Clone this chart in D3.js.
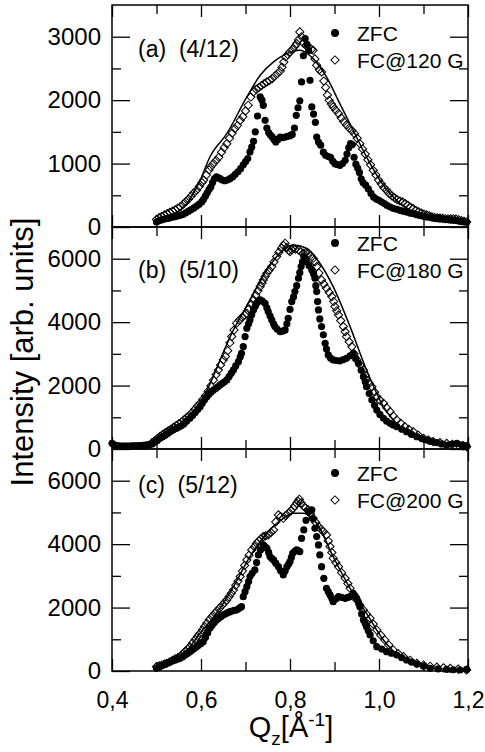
<!DOCTYPE html>
<html><head><meta charset="utf-8">
<script src="https://cdn.jsdelivr.net/npm/d3@7"></script>
<style>
html,body{margin:0;padding:0;background:#fff;}
svg{display:block;font-family:"Liberation Sans",Arial,sans-serif;}
</style></head>
<body><svg id="c" width="485" height="752"></svg>
<script>
// ---------- DATA ----------
const xTicks = [0.4, 0.6, 0.8, 1.0, 1.2];
const xTickLabels = ["0,4", "0,6", "0,8", "1,0", "1,2"];
const xMinor = [0.5, 0.7, 0.9, 1.1];

// Panel (a) (4/12)
const aZfcQ = [0.500,0.506,0.512,0.518,0.524,0.530,0.536,0.542,0.548,0.554,0.560,0.566,0.572,0.578,0.584,0.590,0.596,0.602,0.606,0.610,0.614,0.618,0.622,0.626,0.630,0.635,0.641,0.647,0.653,0.659,0.665,0.671,0.677,0.683,0.689,0.695,0.700,0.705,0.710,0.714,0.718,0.722,0.727,0.733,0.737,0.740,0.744,0.748,0.752,0.756,0.760,0.764,0.768,0.773,0.778,0.784,0.789,0.795,0.800,0.805,0.810,0.814,0.818,0.822,0.826,0.830,0.834,0.838,0.842,0.845,0.849,0.853,0.857,0.860,0.864,0.869,0.875,0.880,0.886,0.891,0.896,0.901,0.906,0.912,0.918,0.924,0.928,0.932,0.936,0.940,0.944,0.948,0.952,0.956,0.960,0.964,0.970,0.976,0.982,0.988,0.994,1.000,1.006,1.012,1.018,1.025,1.032,1.040,1.047,1.055,1.062,1.070,1.077,1.085,1.092,1.100,1.107,1.115,1.122,1.130,1.137,1.145,1.152,1.160,1.167,1.175,1.182,1.190,1.197];
const aZfcI = [79,100,115,125,135,145,155,165,175,185,200,225,250,275,300,330,360,400,440,490,540,590,630,700,760,789,770,745,730,740,762,790,830,870,920,980,1030,1080,1183,1260,1350,1500,1750,2050,2000,1919,1682,1560,1490,1450,1420,1380,1340,1380,1419,1410,1419,1430,1440,1460,1560,1760,1880,1990,2287,2700,2971,2880,2780,2313,1893,1780,1650,1419,1340,1290,1180,1130,1110,1100,1040,999,985,973,1000,1052,1150,1250,1314,1300,1100,990,930,860,760,700,660,600,530,470,440,420,394,370,340,315,295,280,263,250,235,220,210,195,180,170,158,150,140,135,131,125,120,110,105,100,90,85,79];
const aFcQ = [0.500,0.506,0.512,0.518,0.524,0.530,0.536,0.542,0.548,0.554,0.560,0.566,0.572,0.578,0.584,0.590,0.596,0.602,0.606,0.612,0.618,0.622,0.628,0.634,0.640,0.646,0.652,0.658,0.664,0.670,0.676,0.682,0.688,0.694,0.700,0.706,0.712,0.718,0.724,0.730,0.736,0.742,0.748,0.754,0.760,0.766,0.772,0.778,0.782,0.786,0.790,0.795,0.800,0.806,0.811,0.815,0.819,0.822,0.826,0.830,0.836,0.842,0.848,0.852,0.856,0.860,0.866,0.871,0.876,0.880,0.884,0.888,0.893,0.897,0.903,0.909,0.915,0.921,0.927,0.933,0.939,0.945,0.951,0.957,0.963,0.969,0.975,0.981,0.987,0.993,0.999,1.005,1.011,1.017,1.023,1.029,1.035,1.041,1.047,1.053,1.059,1.065,1.071,1.077,1.083,1.089,1.095,1.101,1.107,1.113,1.119,1.125,1.131,1.137,1.143,1.149,1.155,1.161,1.167,1.173,1.179,1.185,1.191,1.197];
const aFcI = [120,150,170,190,210,230,250,270,300,320,360,400,440,490,540,580,640,700,740,820,900,950,1000,1050,1100,1180,1250,1314,1400,1480,1550,1600,1680,1740,1830,1919,2050,2129,2170,2200,2230,2260,2287,2310,2340,2380,2420,2460,2520,2600,2680,2720,2760,2800,2850,2892,2950,3076,3000,2900,2860,2840,2800,2787,2650,2550,2480,2445,2300,2200,2080,1998,1940,1893,1840,1788,1720,1660,1610,1560,1520,1470,1400,1314,1230,1150,1060,980,894,820,740,680,620,578,530,490,460,430,410,395,370,340,310,289,260,240,220,205,190,175,160,150,145,140,135,130,130,128,130,125,115,100,90,79];
const aFitQ = [0.500,0.538,0.568,0.598,0.620,0.658,0.703,0.733,0.763,0.793,0.822,0.852,0.882,0.912,0.942,0.972,1.002,1.032,1.062,1.092,1.122,1.197];
const aFitI = [80,184,368,736,1104,1472,2050,2392,2603,2734,2787,2655,2366,1945,1525,1104,736,473,289,184,131,79];

// Panel (b) (5/10)
const bZfcQ = [0.400,0.405,0.410,0.415,0.420,0.425,0.430,0.435,0.440,0.445,0.450,0.455,0.460,0.465,0.470,0.475,0.480,0.485,0.490,0.496,0.502,0.508,0.514,0.520,0.526,0.532,0.538,0.544,0.550,0.556,0.562,0.568,0.575,0.581,0.587,0.593,0.598,0.603,0.608,0.613,0.618,0.623,0.628,0.633,0.638,0.643,0.648,0.653,0.658,0.663,0.668,0.673,0.678,0.684,0.688,0.691,0.695,0.699,0.703,0.707,0.710,0.714,0.718,0.722,0.725,0.729,0.733,0.738,0.744,0.748,0.751,0.755,0.759,0.763,0.766,0.771,0.778,0.784,0.789,0.793,0.796,0.800,0.804,0.808,0.811,0.815,0.819,0.822,0.825,0.828,0.831,0.834,0.837,0.843,0.849,0.853,0.856,0.858,0.860,0.862,0.864,0.867,0.871,0.875,0.879,0.882,0.886,0.891,0.897,0.904,0.912,0.920,0.927,0.935,0.942,0.948,0.954,0.960,0.965,0.969,0.972,0.978,0.984,0.990,0.995,1.002,1.010,1.017,1.025,1.032,1.040,1.051,1.062,1.073,1.085,1.096,1.107,1.118,1.130,1.141,1.152,1.163,1.175,1.186,1.197];
const bZfcI = [179,130,110,100,95,92,90,92,95,98,100,102,105,110,115,122,130,145,160,210,270,336,390,440,500,560,610,650,690,730,800,880,967,1060,1150,1250,1335,1440,1550,1651,1730,1800,1861,1910,1960,2019,2070,2120,2177,2280,2390,2492,2620,2755,2900,3018,3228,3544,3807,3950,4069,4230,4385,4500,4595,4660,4700,4660,4595,4450,4332,4200,4069,3950,3859,3780,3701,3720,3754,3950,4122,4400,4648,4800,4963,5150,5384,5560,5752,5900,6067,6000,5910,5780,5647,5520,5384,5150,4963,4650,4385,4100,3859,3600,3333,3150,2965,2870,2808,2790,2780,2820,2860,2940,3018,2860,2702,2480,2282,2120,1966,1750,1546,1380,1230,1090,967,880,810,760,705,620,547,460,389,330,284,240,200,160,126,150,179,130,100];
const bFcQ = [0.490,0.496,0.502,0.508,0.514,0.520,0.526,0.532,0.538,0.544,0.550,0.556,0.562,0.568,0.574,0.580,0.586,0.592,0.598,0.604,0.610,0.616,0.622,0.628,0.634,0.639,0.644,0.650,0.655,0.660,0.665,0.669,0.674,0.680,0.686,0.692,0.698,0.703,0.708,0.713,0.718,0.723,0.728,0.733,0.737,0.740,0.744,0.748,0.753,0.759,0.764,0.770,0.775,0.781,0.785,0.789,0.793,0.797,0.800,0.804,0.807,0.812,0.819,0.824,0.830,0.835,0.841,0.846,0.852,0.856,0.860,0.865,0.871,0.876,0.882,0.888,0.894,0.898,0.901,0.905,0.909,0.914,0.920,0.924,0.927,0.933,0.939,0.944,0.950,0.957,0.965,0.969,0.972,0.978,0.984,0.990,0.995,1.002,1.010,1.017,1.025,1.032,1.040,1.049,1.058,1.067,1.077,1.088,1.100,1.111,1.122,1.137,1.152,1.165,1.178,1.190,1.197];
const bFcI = [200,260,330,400,460,520,570,620,680,740,790,850,920,1000,1060,1150,1250,1350,1441,1560,1680,1820,1990,2177,2350,2492,2650,2808,2920,3100,3350,3544,3750,3964,4060,4150,4220,4280,4420,4560,4700,4850,4990,5121,5230,5331,5440,5541,5640,5752,5900,6067,6200,6330,6420,6488,6350,6260,6225,6280,6330,6300,6277,6220,6172,6180,6172,6100,6015,5900,5752,5550,5331,5200,5068,4940,4805,4650,4490,4360,4227,4050,3859,3700,3544,3380,3228,3000,2808,2650,2492,2320,2177,2070,1966,1800,1651,1540,1441,1300,1178,1040,915,810,705,620,547,440,336,280,231,200,179,150,126,100,74];
const bFitQ = [0.485,0.523,0.598,0.673,0.710,0.748,0.785,0.807,0.837,0.867,0.897,0.935,0.972,1.010,1.047,1.085,1.122,1.197];
const bFitI = [126,442,1441,3754,4700,5647,6277,6435,6330,5857,5121,3859,2492,1335,705,336,179,74];

// Panel (c) (5/12)
const cZfcQ = [0.500,0.506,0.512,0.518,0.523,0.530,0.536,0.542,0.548,0.553,0.559,0.565,0.570,0.575,0.580,0.585,0.590,0.595,0.600,0.605,0.610,0.615,0.620,0.625,0.630,0.635,0.640,0.645,0.650,0.655,0.660,0.665,0.670,0.675,0.680,0.686,0.691,0.695,0.699,0.703,0.707,0.710,0.715,0.721,0.725,0.729,0.734,0.740,0.744,0.748,0.752,0.755,0.759,0.763,0.768,0.774,0.779,0.785,0.789,0.793,0.797,0.800,0.803,0.806,0.811,0.815,0.819,0.822,0.826,0.831,0.836,0.841,0.845,0.849,0.852,0.856,0.860,0.864,0.867,0.871,0.876,0.882,0.886,0.890,0.894,0.897,0.903,0.909,0.916,0.924,0.930,0.935,0.942,0.946,0.950,0.954,0.957,0.961,0.965,0.969,0.972,0.976,0.980,0.987,0.995,1.006,1.017,1.028,1.040,1.051,1.062,1.073,1.085,1.100,1.115,1.133,1.152,1.167,1.182,1.197];
const cZfcI = [84,120,170,210,242,280,320,350,380,400,450,510,560,610,660,710,768,820,870,925,1060,1200,1346,1440,1530,1609,1660,1720,1767,1800,1840,1872,1890,1910,1924,1980,2029,2345,2500,2660,2820,2976,3080,3186,3420,3659,3820,3975,3920,3870,3740,3607,3550,3502,3400,3291,3160,3028,3150,3291,3370,3449,3580,3712,3780,3817,3790,3765,4185,4448,4750,5026,5050,5079,4800,4500,4240,3975,3659,3291,2923,2608,2500,2398,2290,2187,2270,2345,2320,2292,2320,2345,2450,2370,2292,2160,2029,1800,1609,1500,1399,1270,1136,950,768,690,610,560,505,420,347,280,221,150,84,65,53,40,32,53];
const cFcQ = [0.500,0.506,0.512,0.518,0.523,0.530,0.536,0.542,0.548,0.553,0.558,0.564,0.570,0.575,0.581,0.587,0.592,0.598,0.603,0.608,0.613,0.619,0.625,0.631,0.636,0.642,0.648,0.653,0.658,0.663,0.668,0.673,0.678,0.683,0.688,0.693,0.698,0.703,0.708,0.714,0.720,0.725,0.730,0.735,0.740,0.745,0.751,0.757,0.763,0.768,0.774,0.779,0.785,0.790,0.796,0.802,0.807,0.811,0.815,0.818,0.821,0.825,0.830,0.835,0.841,0.846,0.852,0.858,0.864,0.870,0.875,0.882,0.886,0.890,0.894,0.897,0.903,0.909,0.916,0.924,0.930,0.935,0.942,0.950,0.957,0.965,0.972,0.980,0.987,0.995,1.004,1.013,1.022,1.032,1.043,1.055,1.070,1.085,1.100,1.115,1.130,1.145,1.160,1.178,1.197];
const cFcI = [137,160,190,220,242,290,340,380,420,452,530,610,690,768,880,990,1090,1188,1290,1400,1504,1620,1720,1819,1900,1990,2080,2160,2240,2340,2450,2555,2700,2830,2976,3150,3330,3502,3650,3817,3920,4027,4100,4170,4238,4260,4290,4370,4448,4700,4921,4870,4816,4900,4974,5050,5131,5210,5289,5350,5415,5300,5200,5140,5079,4950,4816,4680,4553,4470,4395,4290,4100,3922,3740,3554,3420,3291,3100,2923,2760,2608,2420,2240,2080,1924,1790,1661,1480,1293,1130,978,820,662,550,452,340,242,190,150,120,100,84,60,32];
const cFitQ = [0.500,0.560,0.598,0.635,0.673,0.710,0.748,0.785,0.807,0.830,0.860,0.897,0.935,0.972,1.010,1.047,1.085,1.122,1.197];
const cFitI = [84,505,1188,1819,2660,3607,4343,4816,4974,4974,4658,3607,2608,1819,978,452,189,84,32];

const panels = [
  {tag:"(a)  (4/12)", field:"FC@120 G", yMax:3500, yMajor:[0,1000,2000,3000], yMinor:[500,1500,2500],
   zq:aZfcQ, zi:aZfcI, fq:aFcQ, fi:aFcI, lq:aFitQ, li:aFitI},
  {tag:"(b)  (5/10)", field:"FC@180 G", yMax:7000, yMajor:[0,2000,4000,6000], yMinor:[1000,3000,5000],
   zq:bZfcQ, zi:bZfcI, fq:bFcQ, fi:bFcI, lq:bFitQ, li:bFitI},
  {tag:"(c)  (5/12)", field:"FC@200 G", yMax:7000, yMajor:[0,2000,4000,6000], yMinor:[1000,3000,5000],
   zq:cZfcQ, zi:cZfcI, fq:cFcQ, fi:cFcI, lq:cFitQ, li:cFitI}
];

// ---------- LAYOUT ----------
const svg = d3.select("#c");
const L = 112, R = 468;
const panelTop = [5, 227, 449], panelH = 222;
const x = d3.scaleLinear().domain([0.4, 1.2]).range([L, R]);
const dia = d3.symbol(d3.symbolSquare, 34)();

panels.forEach((p, i) => {
  const top = panelTop[i], bot = top + panelH;
  const y = d3.scaleLinear().domain([0, p.yMax]).range([bot, top]);
  const g = svg.append("g");

  // fit line
  const line = d3.line().x(d => x(d[0])).y(d => y(d[1])).curve(d3.curveMonotoneX);
  g.append("path").datum(p.lq.map((q, k) => [q, p.li[k]]))
    .attr("d", line).attr("fill", "none").attr("stroke", "#000").attr("stroke-width", 1.5);

  // ZFC points
  g.append("g").selectAll("circle").data(p.zq.map((q, k) => [q, p.zi[k]])).join("circle")
    .attr("cx", d => x(d[0])).attr("cy", d => y(d[1])).attr("r", 3.6).attr("fill", "#000");

  // FC points (open diamonds)
  g.append("g").selectAll("path").data(p.fq.map((q, k) => [q, p.fi[k]])).join("path")
    .attr("d", dia).attr("transform", d => `translate(${x(d[0])},${y(d[1])}) rotate(45)`)
    .attr("fill", "none").attr("stroke", "#000").attr("stroke-width", 1);

  // axes
  const axL = g.append("g").attr("transform", `translate(${L},0)`)
    .call(d3.axisLeft(y).tickValues(p.yMajor).tickSize(-18).tickPadding(11).tickFormat(d3.format("d")));
  axL.select(".domain").remove();
  axL.selectAll("text").attr("font-size", 24).attr("font-family", "Liberation Sans, Arial, sans-serif").attr("fill", "#000");
  const axLm = g.append("g").attr("transform", `translate(${L},0)`)
    .call(d3.axisLeft(y).tickValues(p.yMinor).tickSize(-9).tickFormat(""));
  axLm.select(".domain").remove();
  const axR = g.append("g").attr("transform", `translate(${R},0)`)
    .call(d3.axisRight(y).tickValues(p.yMajor).tickSize(-18).tickFormat(""));
  axR.select(".domain").remove();
  const axRm = g.append("g").attr("transform", `translate(${R},0)`)
    .call(d3.axisRight(y).tickValues(p.yMinor).tickSize(-9).tickFormat(""));
  axRm.select(".domain").remove();

  const axT = g.append("g").attr("transform", `translate(0,${top})`)
    .call(d3.axisTop(x).tickValues(xTicks).tickSize(-12).tickFormat(""));
  axT.select(".domain").remove();
  const axTm = g.append("g").attr("transform", `translate(0,${top})`)
    .call(d3.axisTop(x).tickValues(xMinor).tickSize(-9).tickFormat(""));
  axTm.select(".domain").remove();
  const axB = g.append("g").attr("transform", `translate(0,${bot})`)
    .call(d3.axisBottom(x).tickValues(xTicks).tickSize(-12).tickPadding(21)
      .tickFormat((d, k) => i === 2 ? xTickLabels[k] : ""));
  axB.select(".domain").remove();
  axB.selectAll("text").attr("font-size", 23).attr("font-family", "Liberation Sans, Arial, sans-serif").attr("fill", "#000");
  const axBm = g.append("g").attr("transform", `translate(0,${bot})`)
    .call(d3.axisBottom(x).tickValues(xMinor).tickSize(-9).tickFormat(""));
  axBm.select(".domain").remove();
  g.selectAll(".tick line").attr("stroke", "#000").attr("stroke-width", 1.3);

  // frame
  g.append("rect").attr("x", L).attr("y", top).attr("width", R - L).attr("height", panelH)
    .attr("fill", "none").attr("stroke", "#000").attr("stroke-width", 1.5);

  // panel tag
  g.append("text").attr("x", 138).attr("y", top + [52, 51, 44][i]).attr("font-size", 23)
    .attr("xml:space", "preserve").style("white-space", "pre").text(p.tag);

  // legend
  const ly = top + [28, 16, 24][i];
  g.append("circle").attr("cx", 335).attr("cy", ly).attr("r", 4).attr("fill", "#000");
  g.append("text").attr("x", 357).attr("y", ly + 8).attr("font-size", 21).text("ZFC");
  g.append("path").attr("d", dia).attr("transform", `translate(335,${ly + 27}) rotate(45)`)
    .attr("fill", "none").attr("stroke", "#000").attr("stroke-width", 1);
  g.append("text").attr("x", 357).attr("y", ly + 35).attr("font-size", 21).text(p.field);
});

// axis titles
svg.append("text").attr("transform", "translate(33,352) rotate(-90)").attr("text-anchor", "middle")
  .attr("font-size", 31).text("Intensity [arb. units]");
const xt = svg.append("text").attr("x", 291).attr("y", 737).attr("text-anchor", "middle").attr("font-size", 29);
xt.append("tspan").text("Q");
xt.append("tspan").attr("font-size", 19).attr("dy", 8).text("z");
xt.append("tspan").attr("dy", -8).text("[Å");
xt.append("tspan").attr("font-size", 19).attr("dy", -11).text("-1");
xt.append("tspan").attr("dy", 11).text("]");
</script></body></html>
